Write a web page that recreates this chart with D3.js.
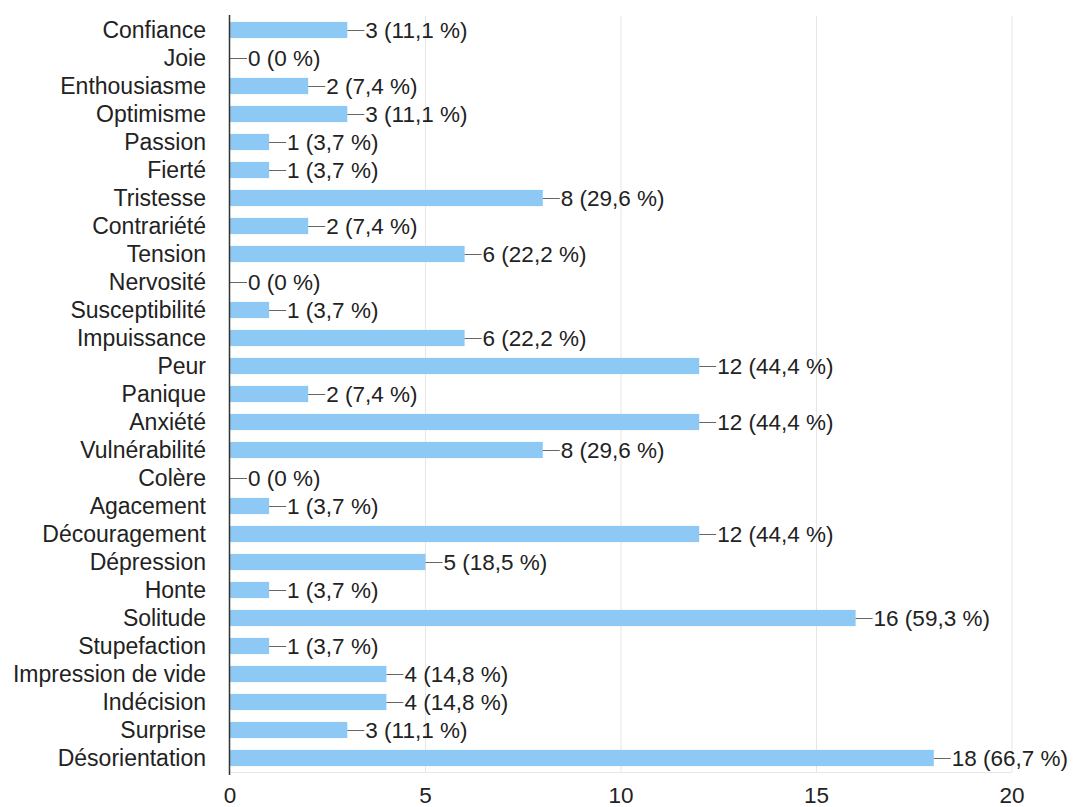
<!DOCTYPE html>
<html>
<head>
<meta charset="utf-8">
<script src="https://cdn.jsdelivr.net/npm/d3@7"></script>
<style>
  html, body { margin: 0; padding: 0; background: #fff; }
  text { font-family: "Liberation Sans", Arial, sans-serif; fill: #222; }
</style>
</head>
<body>
<svg id="chart" width="1073" height="807"></svg>
<script>
const categories = ["Confiance", "Joie", "Enthousiasme", "Optimisme", "Passion", "Fierté",
  "Tristesse", "Contrariété", "Tension", "Nervosité", "Susceptibilité", "Impuissance",
  "Peur", "Panique", "Anxiété", "Vulnérabilité", "Colère", "Agacement", "Découragement",
  "Dépression", "Honte", "Solitude", "Stupefaction", "Impression de vide", "Indécision",
  "Surprise", "Désorientation"];
const counts = [3, 0, 2, 3, 1, 1, 8, 2, 6, 0, 1, 6, 12, 2, 12, 8, 0, 1, 12, 5, 1, 16, 1, 4, 4, 3, 18];
const percents = ["11,1", "0", "7,4", "11,1", "3,7", "3,7", "29,6", "7,4", "22,2", "0", "3,7", "22,2",
  "44,4", "7,4", "44,4", "29,6", "0", "3,7", "44,4", "18,5", "3,7", "59,3", "3,7", "14,8", "14,8",
  "11,1", "66,7"];
const xTicks = [0, 5, 10, 15, 20];

const svg = d3.select("#chart");
const margin = { left: 230, right: 61, top: 16, bottom: 35 };
const W = 1073, H = 807;
const fontSize = 22.5;

const x = d3.scaleLinear().domain([0, 20]).range([margin.left, W - margin.right]);
const y = d3.scaleBand().domain(categories).range([margin.top, H - margin.bottom]).paddingInner(0.42).paddingOuter(0.21);

// vertical gridlines
svg.append("g").selectAll("line").data(xTicks.slice(1)).join("line")
  .attr("x1", d => x(d)).attr("x2", d => x(d))
  .attr("y1", margin.top).attr("y2", H - margin.bottom)
  .attr("stroke", "#e6e6e6").attr("stroke-width", 1);

// bottom baseline
svg.append("line")
  .attr("x1", x(0)).attr("x2", x(20))
  .attr("y1", H - margin.bottom + 0.5).attr("y2", H - margin.bottom + 0.5)
  .attr("stroke", "#e6e6e6");

const data = categories.map((c, i) => ({ c, v: counts[i], p: percents[i] }));

// bars
svg.append("g").selectAll("rect").data(data).join("rect")
  .attr("x", x(0)).attr("y", d => y(d.c))
  .attr("width", d => x(d.v) - x(0)).attr("height", y.bandwidth())
  .attr("fill", "#8ec9f5");

// connector lines to value labels
svg.append("g").selectAll("line").data(data).join("line")
  .attr("x1", d => x(d.v)).attr("x2", d => x(d.v) + 17)
  .attr("y1", d => y(d.c) + y.bandwidth() / 2 + 0.5)
  .attr("y2", d => y(d.c) + y.bandwidth() / 2 + 0.5)
  .attr("stroke", "#666").attr("stroke-width", 1);

// value labels
svg.append("g").selectAll("text").data(data).join("text")
  .attr("x", d => x(d.v) + 18)
  .attr("y", d => y(d.c) + y.bandwidth() / 2)
  .attr("dy", "0.36em")
  .attr("font-size", fontSize)
  .text(d => `${d.v} (${d.p} %)`);

// category labels
svg.append("g").selectAll("text").data(data).join("text")
  .attr("x", x(0) - 24)
  .attr("y", d => y(d.c) + y.bandwidth() / 2)
  .attr("dy", "0.36em")
  .attr("text-anchor", "end")
  .attr("font-size", 23)
  .text(d => d.c);

// x tick labels
svg.append("g").selectAll("text").data(xTicks).join("text")
  .attr("x", d => x(d)).attr("y", 803)
  .attr("text-anchor", "middle")
  .attr("font-size", fontSize)
  .text(d => d);

// y axis line
svg.append("line")
  .attr("x1", x(0) - 0.5).attr("x2", x(0) - 0.5)
  .attr("y1", margin.top - 1).attr("y2", H - margin.bottom + 3)
  .attr("stroke", "#333").attr("stroke-width", 1.5);
</script>
</body>
</html>
